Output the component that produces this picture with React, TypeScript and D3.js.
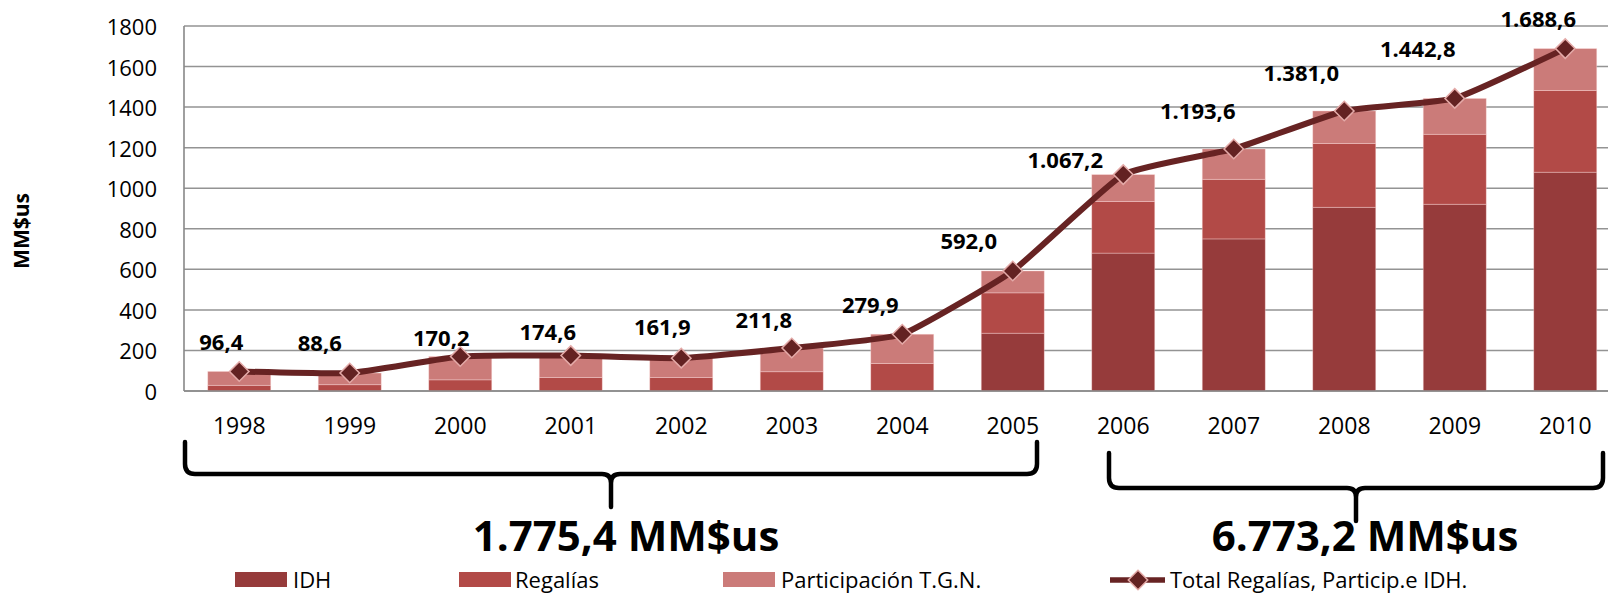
import React from 'react';
import * as d3 from 'd3';

// ---------------- DATA ----------------
const years = ['1998', '1999', '2000', '2001', '2002', '2003', '2004', '2005', '2006', '2007', '2008', '2009', '2010'];
const idh = [0, 0, 0, 0, 0, 0, 0, 285, 680, 750, 906, 921, 1079];
const regalias = [28, 31, 55, 67, 66, 95, 136, 199, 255, 294, 315, 345, 403];
const participacionTGN = [68.4, 57.6, 115.2, 107.6, 95.9, 116.8, 143.9, 108.0, 132.2, 149.6, 160.0, 176.8, 206.6];
const totals = [96.4, 88.6, 170.2, 174.6, 161.9, 211.8, 279.9, 592.0, 1067.2, 1193.6, 1381.0, 1442.8, 1688.6];
const yTicks = [0, 200, 400, 600, 800, 1000, 1200, 1400, 1600, 1800];
const seriesNames = ['IDH', 'Regalías', 'Participación T.G.N.'];
const lineName = 'Total Regalías, Particip.e IDH.';
const axisTitle = 'MM$us';
const unit = 'MM$us';
const periodFirst = ['1998', '2005'];
const periodSecond = ['2006', '2010'];

// ---------------- LAYOUT / STYLE ----------------
const W = 1608;
const H = 593;
const COLORS = ['#963b3b', '#b24a47', '#cb7b79'];
const LINE_COLOR = '#672323';
const MARKER_FILL = '#632222';
const MARKER_STROKE = '#e4aaa8';
const GRID = '#939393';
const FONT = "'Open Sans', 'DejaVu Sans', sans-serif";
// label nudges (dx, baseline dy) relative to each point, as placed in the original
const labelDx = [-18, -30, -19, -23, -19, -28, -32, -44, -58, -36, -43, -37, -27];
const labelDy = [-21, -22, -10, -16, -23, -20, -21, -22, -7, -30, -30, -41, -22];

const esLocale = d3.formatLocale({ decimal: ',', thousands: '.', grouping: [3], currency: ['$', ''] });
const fmt = esLocale.format(',.1f');

export default function App() {
  const step = 110.5;
  const x = d3
    .scaleBand<string>()
    .domain(years)
    .range([184, 184 + years.length * step])
    .paddingInner(0.43)
    .paddingOuter(0.215);
  const y = d3.scaleLinear().domain([0, 1800]).range([391, 26]);
  const bw = x.bandwidth();
  const cx = (yr: string) => (x(yr) as number) + bw / 2;

  const rows = years.map((yr, i) => ({
    year: yr,
    IDH: idh[i],
    'Regalías': regalias[i],
    'Participación T.G.N.': participacionTGN[i],
  }));
  const stacked = d3.stack<any>().keys(seriesNames)(rows);

  const linePath = d3
    .line<number>()
    .x((_, i) => cx(years[i]))
    .y((d) => y(d))
    .curve(d3.curveCardinal.tension(0.6))(totals) as string;

  const diamond = d3.symbol().type(d3.symbolSquare).size(190)() as string;

  const sumPeriod = (p: string[]) => {
    const a = years.indexOf(p[0]);
    const b = years.indexOf(p[1]);
    return d3.sum(totals.slice(a, b + 1));
  };

  const bracePath = (x0: number, x1: number, top: number, mid: number, bottom: number) => {
    const tip = (x0 + x1) / 2;
    const r = 10;
    const r2 = 9;
    return (
      `M${x0},${top} L${x0},${mid - r} Q${x0},${mid} ${x0 + r},${mid} L${tip - r2},${mid} Q${tip},${mid} ${tip},${mid + r2} L${tip},${bottom} ` +
      `M${x1},${top} L${x1},${mid - r} Q${x1},${mid} ${x1 - r},${mid} L${tip + r2},${mid} Q${tip},${mid} ${tip},${mid + r2}`
    );
  };

  const xEnd = W + 20;

  return (
    <svg
      width={W}
      height={H}
      style={{ position: 'absolute', left: 0, top: 0, background: '#fff' }}
      fontFamily={FONT}
    >
      {/* gridlines */}
      {yTicks.map((t) => (
        <line key={'g' + t} x1={184} x2={xEnd} y1={y(t)} y2={y(t)} stroke={GRID} strokeWidth={1.5} />
      ))}
      {/* y tick labels */}
      {yTicks.map((t) => (
        <text key={'yt' + t} x={157} y={y(t)} textAnchor="end" dominantBaseline="central" fontSize={22} fill="#000">
          {t}
        </text>
      ))}
      <text
        transform={`translate(21,231) rotate(-90)`}
        textAnchor="middle"
        dominantBaseline="central"
        fontSize={21}
        fontWeight="bold"
        fill="#000"
      >
        {axisTitle}
      </text>

      {/* bars */}
      {stacked.map((layer, li) => (
        <g key={'s' + li} fill={COLORS[li]}>
          {layer.map((d, i) =>
            d[1] - d[0] > 0 ? (
              <rect
                key={i}
                x={x(years[i])}
                width={bw}
                y={y(d[1])}
                height={y(d[0]) - y(d[1])}
                stroke="rgba(255,220,220,0.45)"
                strokeWidth={0.8}
              />
            ) : null
          )}
        </g>
      ))}

      {/* axes */}
      <line x1={184} x2={184} y1={y(1800)} y2={y(0)} stroke="#888" strokeWidth={1.6} />
      <line x1={184} x2={xEnd} y1={y(0)} y2={y(0)} stroke="#888" strokeWidth={1.6} />

      {/* x tick labels */}
      {years.map((yr) => (
        <text key={'xt' + yr} x={cx(yr)} y={434} textAnchor="middle" fontSize={23} fill="#000">
          {yr}
        </text>
      ))}

      {/* total line */}
      <path d={linePath} fill="none" stroke={LINE_COLOR} strokeWidth={6} strokeLinejoin="round" />
      {totals.map((t, i) => (
        <path
          key={'m' + i}
          d={diamond}
          transform={`translate(${cx(years[i])},${y(t)}) rotate(45)`}
          fill={MARKER_FILL}
          stroke={MARKER_STROKE}
          strokeWidth={1.5}
        />
      ))}
      {totals.map((t, i) => (
        <text
          key={'l' + i}
          x={cx(years[i]) + labelDx[i]}
          y={y(t) + labelDy[i]}
          textAnchor="middle"
          fontSize={22}
          fontWeight="bold"
          fill="#000"
        >
          {fmt(t)}
        </text>
      ))}

      {/* braces */}
      <path d={bracePath(185, 1037, 442, 474, 507)} fill="none" stroke="#000" strokeWidth={4.5} strokeLinecap="round" />
      <path d={bracePath(1109, 1603, 453, 488, 521)} fill="none" stroke="#000" strokeWidth={4.5} strokeLinecap="round" />
      <text x={626} y={551} textAnchor="middle" fontSize={42} fontWeight="bold" fill="#000">
        {fmt(sumPeriod(periodFirst))} {unit}
      </text>
      <text x={1365} y={551} textAnchor="middle" fontSize={42} fontWeight="bold" fill="#000">
        {fmt(sumPeriod(periodSecond))} {unit}
      </text>

      {/* legend */}
      {[
        [235, 293],
        [459, 515],
        [723, 781],
      ].map((p, i) => (
        <g key={'lg' + i}>
          <rect x={p[0]} y={572} width={52} height={15} fill={COLORS[i]} />
          <text x={p[1]} y={588} fontSize={22} fill="#000">
            {seriesNames[i]}
          </text>
        </g>
      ))}
      <line x1={1110} x2={1165} y1={580} y2={580} stroke={LINE_COLOR} strokeWidth={5.5} />
      <path d={diamond} transform={`translate(1138,580) rotate(45)`} fill={MARKER_FILL} stroke={MARKER_STROKE} strokeWidth={1.5} />
      <text x={1170} y={588} fontSize={22} fill="#000">
        {lineName}
      </text>
    </svg>
  );
}
